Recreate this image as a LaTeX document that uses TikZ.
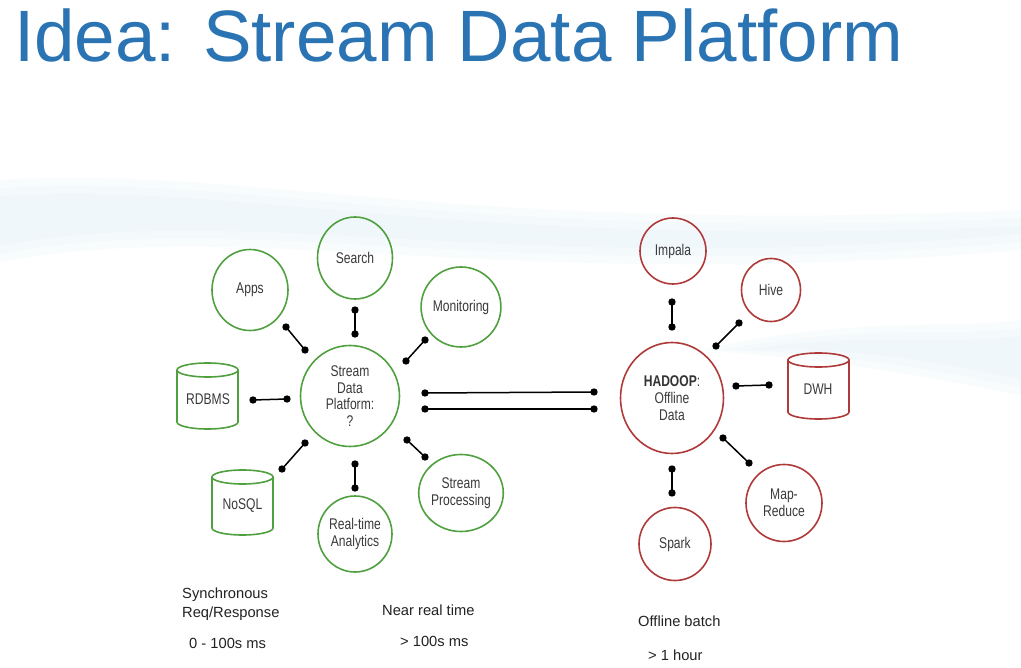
\documentclass[tikz,border=0pt]{standalone}
\usepackage{fontspec}
\setmainfont{Liberation Sans}
\newfontfamily\nodefont{Liberation Sans}[FakeStretch=0.78]
\usetikzlibrary{shapes.geometric}
\definecolor{titleblue}{RGB}{42,116,180}
\definecolor{sgreen}{RGB}{80,160,64}
\definecolor{hred}{RGB}{176,58,58}
\definecolor{ntext}{RGB}{58,58,58}
\definecolor{ltext}{RGB}{34,34,34}
\definecolor{wave}{RGB}{228,242,250}
\newcommand\drawcyl[5]{%
  \draw[#5, line width=1.6pt] (#1-#4,#2+7) -- (#1-#4,#3-7)
     arc[start angle=180,end angle=0,x radius=#4,y radius=7] -- (#1+#4,#2+7);
  \draw[#5, line width=1.6pt] (#1,#2+7) ellipse[x radius=#4,y radius=7];}
\begin{document}
\begin{tikzpicture}[x=1pt,y=-1pt,
  gcirc/.style={ellipse, draw=sgreen, line width=1.6pt, inner sep=0pt, align=center,
     font=\nodefont\fontsize{15.5}{16.7}\selectfont, text=ntext},
  rcirc/.style={gcirc, draw=hred},
  cyllabel/.style={inner sep=0pt, font=\nodefont\fontsize{15.5}{16.7}\selectfont, text=ntext},
  link/.style={line width=1.5pt, draw=black},
  lbl/.style={anchor=base west, inner sep=0pt, font=\fontsize{14.7}{17}\selectfont, text=ltext},
  swoosh/.style={fill=wave, opacity=0.22}]
\useasboundingbox (0,0) rectangle (1021,668);
\fill[white] (0,0) rectangle (1021,668);
% faint background swooshes (soft, layered)
\foreach \d in {0,8,16}{
  \fill[swoosh] (0,180+\d) .. controls (250,165+\d) and (450,235+\d) .. (1021,210+\d)
     -- (1021,250-\d) .. controls (500,295-\d) and (250,215-\d) .. (0,262-\d) -- cycle;
  \fill[swoosh] (700+3*\d,350) .. controls (860,315+\d) and (940,330+\d) .. (1021,320+\d)
     -- (1021,395-\d) .. controls (940,380-\d) and (860,362-\d) .. (700+3*\d,350) -- cycle;
}

\node[anchor=base west, inner sep=0pt, text=titleblue, font=\fontsize{72.8}{80}\selectfont]
  (title) at (14,62) {Idea: Stream Data Platform};

% green cluster
\node[gcirc, minimum width=99pt, minimum height=101pt] (sdp) at (350,396) {Stream\\Data\\Platform:\\?};
\node[gcirc, minimum width=76pt, minimum height=81pt] (apps) at (250,290) {Apps};
\node[gcirc, minimum width=75pt, minimum height=82pt] (search) at (355,258) {Search};
\node[gcirc, minimum width=75pt, minimum height=80pt] (mon) at (461,307) {Monitoring};
\node[gcirc, minimum width=74pt, minimum height=76pt] (rt) at (355,534) {Real-time\\Analytics};
\node[gcirc, minimum width=77pt, minimum height=77pt] (sp) at (461,493) {Stream\\Processing};
\drawcyl{207.5}{363}{429}{30.5}{sgreen}
\node[cyllabel] (rdbms) at (208,399) {RDBMS};
\drawcyl{242.5}{470}{535}{30.5}{sgreen}
\node[cyllabel] (nosql) at (242.5,506) {NoSQL};

% red cluster
\node[rcirc, minimum width=103pt, minimum height=111pt] (hadoop) at (672,398) {{\bfseries\color{black!80}HADOOP}:\\Offline\\Data};
\node[rcirc, minimum width=66pt, minimum height=66pt] (impala) at (673,251) {Impala};
\node[rcirc, minimum width=59pt, minimum height=63pt] (hive) at (771,290) {Hive};
\node[rcirc, minimum width=76pt, minimum height=77pt] (mr) at (784,503) {Map-\\Reduce};
\node[rcirc, minimum width=72pt, minimum height=73pt] (spark) at (675,544) {Spark};
\drawcyl{818.5}{353}{419}{30.5}{hred}
\node[cyllabel] (dwh) at (818,389) {DWH};

% connectors with dot ends
\foreach \n/\a/\b in {apps/{286,327}/{305,350}, search/{355,310}/{355,334},
   mon/{425,340}/{406,361}, rdb/{253,400}/{287,399}, nos/{282,469}/{305,443},
   rtl/{355,464}/{355,488}, spl/{407,440}/{425,457}, mainA/{425,393}/{594,392},
   mainB/{425,409}/{594,409}, imp/{672,302}/{672,327}, hiv/{739,323}/{716,346},
   dwhl/{736,386}/{769,385}, mrl/{723,438}/{749,463}, spk/{672,469}/{672,493}}{
  \coordinate (\n-a) at (\a);
  \coordinate (\n-b) at (\b);
  \draw[link] (\n-a) -- (\n-b);
  \fill[black] (\n-a) circle[radius=3.7pt] (\n-b) circle[radius=3.7pt];
}

% bottom labels
\node[lbl] (sync1) at (182,598) {Synchronous};
\node[lbl] (sync2) at (182,617) {Req/Response};
\node[lbl] (sync3) at (189,648) {0 - 100s ms};
\node[lbl] (near1) at (382,615) {Near real time};
\node[lbl] (near2) at (400,646) {> 100s ms};
\node[lbl] (off1) at (638,626) {Offline batch};
\node[lbl] (off2) at (648,660) {> 1 hour};
\end{tikzpicture}
\end{document}
